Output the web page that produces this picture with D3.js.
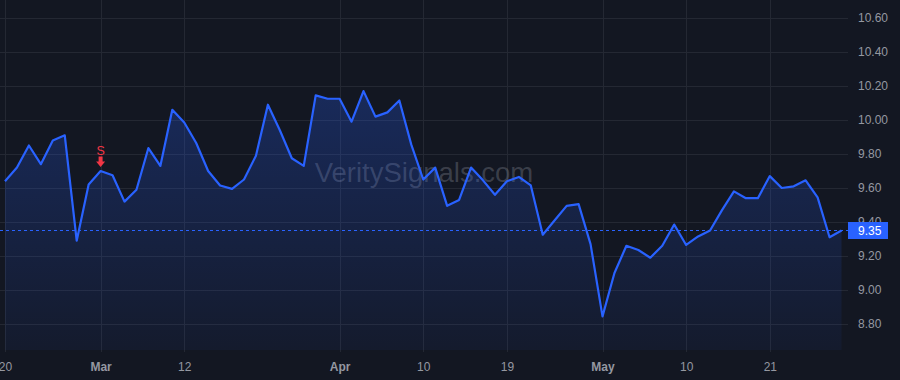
<!DOCTYPE html>
<html lang="en">
<head>
<meta charset="utf-8">
<title>Price chart</title>
<script src="https://d3js.org/d3.v7.min.js"></script>
<style>
  html, body { margin: 0; padding: 0; background: #131722; }
  svg { display: block; }
  text { font-family: "Liberation Sans", Arial, sans-serif; }
</style>
</head>
<body>
<div id="main"></div>
<script>
// trading days, Feb 20 - May 30
var dates = [
  "2024-02-20","2024-02-21","2024-02-22","2024-02-23","2024-02-26","2024-02-27","2024-02-28","2024-02-29",
  "2024-03-01","2024-03-04","2024-03-05","2024-03-06","2024-03-07","2024-03-08","2024-03-11","2024-03-12",
  "2024-03-13","2024-03-14","2024-03-15","2024-03-18","2024-03-19","2024-03-20","2024-03-21","2024-03-22",
  "2024-03-25","2024-03-26","2024-03-27","2024-03-28",
  "2024-04-01","2024-04-02","2024-04-03","2024-04-04","2024-04-05","2024-04-08","2024-04-09","2024-04-10",
  "2024-04-11","2024-04-12","2024-04-15","2024-04-16","2024-04-17","2024-04-18","2024-04-19","2024-04-22",
  "2024-04-23","2024-04-24","2024-04-25","2024-04-26","2024-04-29","2024-04-30",
  "2024-05-01","2024-05-02","2024-05-03","2024-05-06","2024-05-07","2024-05-08","2024-05-09","2024-05-10",
  "2024-05-13","2024-05-14","2024-05-15","2024-05-16","2024-05-17","2024-05-20","2024-05-21","2024-05-22",
  "2024-05-23","2024-05-24","2024-05-28","2024-05-29","2024-05-30"
];

var closes = [
  9.64, 9.72, 9.85, 9.74, 9.88, 9.91, 9.29, 9.62,
  9.70, 9.675, 9.52, 9.59, 9.835, 9.73, 10.06, 9.985,
  9.865, 9.70, 9.615, 9.595, 9.65, 9.79, 10.09, 9.94,
  9.775, 9.73, 10.145, 10.125,
  10.125, 9.99, 10.17, 10.02, 10.045, 10.115, 9.855, 9.65,
  9.72, 9.495, 9.53, 9.72, 9.645, 9.56, 9.64, 9.665,
  9.615, 9.325, 9.41, 9.495, 9.505, 9.27,
  8.845, 9.10, 9.26, 9.235, 9.19, 9.26, 9.385, 9.265,
  9.315, 9.35, 9.47, 9.58, 9.54, 9.54, 9.67, 9.60,
  9.61, 9.645, 9.545, 9.31, 9.35
];

var xTicks = ["2024-02-20","2024-03-01","2024-03-12","2024-04-01","2024-04-10","2024-04-19","2024-05-01","2024-05-10","2024-05-21"];
var xTickLabels = ["20","Mar","12","Apr","10","19","May","10","21"];
var monthTicks = ["Mar","Apr","May"];
var yTicks = [8.8, 9.0, 9.2, 9.4, 9.6, 9.8, 10.0, 10.2, 10.4, 10.6];

var signalDate = "2024-03-01";
var signalLabel = "S";
var lastPrice = closes[closes.length - 1];
var watermark = "VeritySignals.com";

var width = 900, height = 380;
var plotRight = 848, plotBottom = 350;

var svg = d3.select("#main").append("svg")
    .attr("width", width)
    .attr("height", height);

svg.append("rect").attr("width", width).attr("height", height).attr("fill", "#131722");

var x = d3.scalePoint()
    .domain(dates)
    .range([5, 841.5]);

var y = d3.scaleLinear()
    .domain([8.8, 10.6])
    .range([324, 18]);

var data = dates.map(function(d, i) { return { date: d, close: closes[i] }; });

// gradient for area
var defs = svg.append("defs");
var grad = defs.append("linearGradient")
    .attr("id", "areaGrad")
    .attr("gradientUnits", "userSpaceOnUse")
    .attr("x1", 0).attr("x2", 0)
    .attr("y1", y(10.2)).attr("y2", plotBottom);
grad.append("stop").attr("offset", "0%").attr("stop-color", "#2962ff").attr("stop-opacity", 0.26);
grad.append("stop").attr("offset", "100%").attr("stop-color", "#2962ff").attr("stop-opacity", 0.05);

// horizontal grid
svg.append("g")
  .selectAll("line")
  .data(yTicks)
  .enter().append("line")
    .attr("x1", 0).attr("x2", plotRight)
    .attr("y1", function(d) { return Math.round(y(d)) + 0.5; })
    .attr("y2", function(d) { return Math.round(y(d)) + 0.5; })
    .attr("stroke", "#242833")
    .attr("stroke-width", 1);

// vertical grid
svg.append("g")
  .selectAll("line")
  .data(xTicks)
  .enter().append("line")
    .attr("x1", function(d) { return Math.round(x(d)) + 0.5; })
    .attr("x2", function(d) { return Math.round(x(d)) + 0.5; })
    .attr("y1", 0).attr("y2", 352)
    .attr("stroke", "#242833")
    .attr("stroke-width", 1);

// watermark
svg.append("text")
    .attr("x", 424)
    .attr("y", 182)
    .attr("text-anchor", "middle")
    .attr("font-size", 27.5)
    .attr("fill", "rgba(178,181,190,0.26)")
    .text(watermark);

// area + line
var area = d3.area()
    .x(function(d) { return x(d.date); })
    .y0(plotBottom)
    .y1(function(d) { return y(d.close); });

var line = d3.line()
    .x(function(d) { return x(d.date); })
    .y(function(d) { return y(d.close); });

svg.append("path")
    .datum(data)
    .attr("d", area)
    .attr("fill", "url(#areaGrad)");

svg.append("path")
    .datum(data)
    .attr("d", line)
    .attr("fill", "none")
    .attr("stroke", "#2962ff")
    .attr("stroke-width", 2.2)
    .attr("stroke-linejoin", "round");

// last price dashed line
svg.append("line")
    .attr("x1", 0).attr("x2", plotRight)
    .attr("y1", y(lastPrice)).attr("y2", y(lastPrice))
    .attr("stroke", "#2962ff")
    .attr("stroke-width", 1)
    .attr("stroke-dasharray", "3,3");

// y axis labels
var yAxis = svg.append("g")
    .attr("transform", "translate(" + plotRight + ",0)")
    .call(d3.axisRight(y).tickValues(yTicks).tickSize(0).tickPadding(10).tickFormat(d3.format(".2f")));
yAxis.select(".domain").remove();
yAxis.selectAll("text")
    .attr("fill", "#9598a1")
    .attr("font-size", 12)
    .attr("font-family", "Liberation Sans, Arial, sans-serif");

// x axis labels
var xAxis = svg.append("g")
    .attr("transform", "translate(0," + plotBottom + ")")
    .call(d3.axisBottom(x).tickValues(xTicks).tickSize(0).tickPadding(12)
      .tickFormat(function(d, i) { return xTickLabels[i]; }));
xAxis.select(".domain").remove();
xAxis.selectAll("text")
    .attr("fill", "#9598a1")
    .attr("font-size", 12)
    .attr("font-family", "Liberation Sans, Arial, sans-serif")
    .attr("font-weight", function(d, i) { return monthTicks.indexOf(xTickLabels[i]) >= 0 ? "bold" : "normal"; });

// last price label
var lp = svg.append("g").attr("transform", "translate(" + plotRight + "," + y(lastPrice) + ")");
lp.append("rect")
    .attr("x", 0).attr("y", -8.5)
    .attr("width", 40).attr("height", 17)
    .attr("fill", "#2962ff");
lp.append("text")
    .attr("x", 10).attr("y", 0)
    .attr("dy", "0.35em")
    .attr("font-size", 12)
    .attr("fill", "#ffffff")
    .text(d3.format(".2f")(lastPrice));

// sell signal marker
var sx = x(signalDate);
var sy = y(closes[dates.indexOf(signalDate)]);
var sig = svg.append("g").attr("transform", "translate(" + sx + "," + sy + ")");
sig.append("path")
    .attr("d", "M-2,-14.5 L2,-14.5 L2,-9.5 L4.5,-9.5 L0,-4 L-4.5,-9.5 L-2,-9.5 Z")
    .attr("fill", "#f23645");
sig.append("text")
    .attr("x", 0).attr("y", -16)
    .attr("text-anchor", "middle")
    .attr("font-size", 12.5)
    .attr("fill", "#f23645")
    .text(signalLabel);
</script>
</body>
</html>
